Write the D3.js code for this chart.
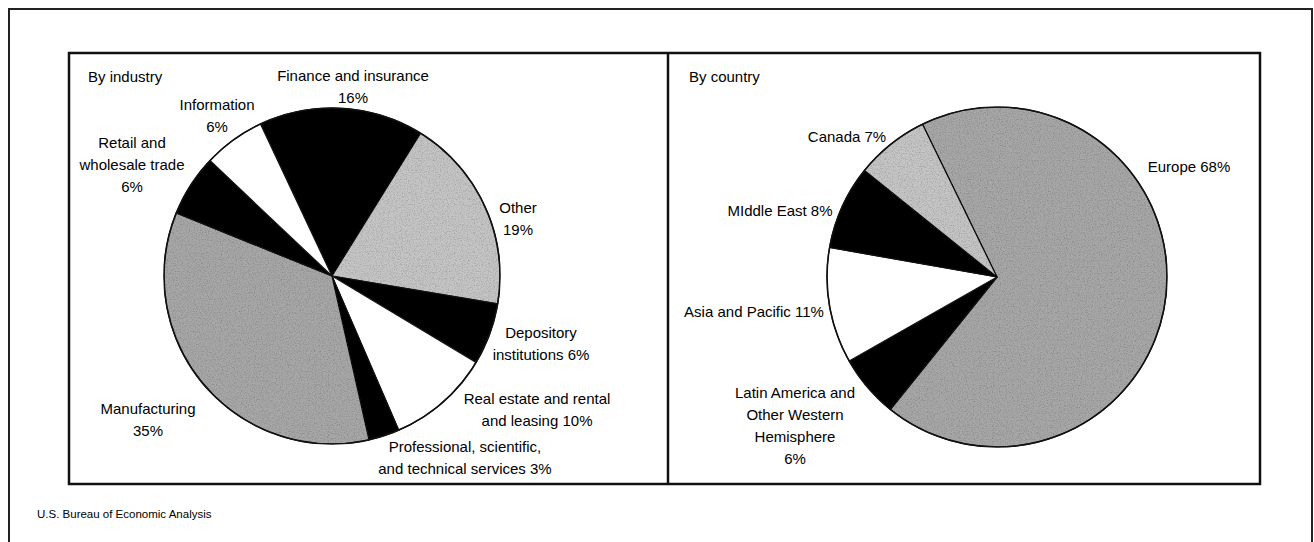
<!DOCTYPE html>
<html>
<head>
<meta charset="utf-8">
<script src="https://cdn.jsdelivr.net/npm/d3@7"></script>
<style>
  html, body { margin: 0; padding: 0; background: #fff; }
  svg { display: block; }
  text { font-family: "Liberation Sans", Arial, Helvetica, sans-serif; fill: #000; }
</style>
</head>
<body>
<script>
// ---- data ----
const industryNames = ["Finance and insurance", "Other", "Depository institutions",
  "Real estate and rental and leasing", "Professional, scientific, and technical services",
  "Manufacturing", "Retail and wholesale trade", "Information"];
const industryShares = [16, 19, 6, 10, 3, 35, 6, 6];
const industryLabelLines = [
  ["Finance and insurance", "16%"],
  ["Other", "19%"],
  ["Depository", "institutions 6%"],
  ["Real estate and rental", "and leasing 10%"],
  ["Professional, scientific,", "and technical services 3%"],
  ["Manufacturing", "35%"],
  ["Retail and", "wholesale trade", "6%"],
  ["Information", "6%"]
];

const countryNames = ["Europe", "Latin America and Other Western Hemisphere",
  "Asia and Pacific", "Middle East", "Canada"];
const countryShares = [68, 6, 11, 8, 7];
const countryLabelLines = [
  ["Europe 68%"],
  ["Latin America and", "Other Western", "Hemisphere", "6%"],
  ["Asia and Pacific 11%"],
  ["MIddle East 8%"],
  ["Canada 7%"]
];

// ---- layout & style ----
const W = 1314, H = 542;
const LINE_H = 22;
const GREY_DARK = "#a7a7a7", GREY_LIGHT = "#c5c5c5";

const industryFills = ["#000", GREY_LIGHT, "#000", "#fff", "#000", GREY_DARK, "#000", "#fff"];
const countryFills = [GREY_DARK, "#000", "#fff", "#000", GREY_LIGHT];

// label anchor offsets relative to each pie centre (centre of first line's baseline)
const industryLabelPos = [[21, -195], [186, -63], [209, 62], [205, 128], [133, 176],
  [-184, 138], [-200, -128], [-115, -166]];
const countryLabelPos = [[192, -105], [-202, 121], [-243, 40], [-217, -61], [-150, -135]];

const svg = d3.select("body").append("svg")
  .attr("width", W).attr("height", H);

// grain texture for the grey screens
const defs = svg.append("defs");
const grain = defs.append("filter").attr("id", "grain")
  .attr("x", 0).attr("y", 0).attr("width", 1).attr("height", 1);
grain.append("feTurbulence").attr("type", "fractalNoise")
  .attr("baseFrequency", 0.85).attr("numOctaves", 2).attr("seed", 3).attr("result", "noise");
grain.append("feColorMatrix").attr("in", "noise").attr("type", "matrix")
  .attr("values", "0 0 0 0 0  0 0 0 0 0  0 0 0 0 0  0 0 0 -0.9 0.5")
  .attr("result", "dots");
grain.append("feComposite").attr("in", "dots").attr("in2", "SourceGraphic")
  .attr("operator", "in").attr("result", "dotsIn");
const gm = grain.append("feMerge");
gm.append("feMergeNode").attr("in", "SourceGraphic");
gm.append("feMergeNode").attr("in", "dotsIn");

// outer frame (runs off the bottom of the page)
svg.append("path")
  .attr("d", d3.line()([[9, H + 10], [9, 9], [1312, 9], [1312, H + 10]]))
  .attr("fill", "none").attr("stroke", "#222").attr("stroke-width", 2);

// panels
const panelTop = 53, panelBottom = 484, panelLeft = 69, panelRight = 1260, divider = 668;
svg.append("rect")
  .attr("x", panelLeft).attr("y", panelTop)
  .attr("width", panelRight - panelLeft).attr("height", panelBottom - panelTop)
  .attr("fill", "none").attr("stroke", "#111").attr("stroke-width", 2.5);
svg.append("line")
  .attr("x1", divider).attr("x2", divider).attr("y1", panelTop).attr("y2", panelBottom)
  .attr("stroke", "#111").attr("stroke-width", 2.5);

svg.append("text").attr("x", 88).attr("y", 82).attr("font-size", 15).text("By industry");
svg.append("text").attr("x", 689).attr("y", 82).attr("font-size", 15).text("By country");

function drawPie(cx, cy, r, shares, fills, startDeg, lines, pos) {
  const a0 = startDeg * Math.PI / 180;
  const pie = d3.pie().sort(null).value(d => d).startAngle(a0).endAngle(a0 + 2 * Math.PI);
  const arc = d3.arc().innerRadius(0).outerRadius(r);
  const g = svg.append("g").attr("transform", `translate(${cx},${cy})`);
  const arcs = pie(shares);
  g.selectAll("path.slice").data(arcs).join("path")
    .attr("class", "slice")
    .attr("d", arc)
    .attr("fill", (d, i) => fills[i])
    .attr("filter", (d, i) => (fills[i] !== "#000" && fills[i] !== "#fff") ? "url(#grain)" : null)
    .attr("stroke", "#111").attr("stroke-width", 1.2).attr("stroke-linejoin", "round");
  g.append("circle").attr("r", r).attr("fill", "none")
    .attr("stroke", "#111").attr("stroke-width", 1.6);

  const lab = g.selectAll("text.lab").data(lines).join("text")
    .attr("class", "lab")
    .attr("font-size", 15)
    .attr("text-anchor", "middle")
    .attr("transform", (d, i) => `translate(${pos[i][0]},${pos[i][1]})`);
  lab.selectAll("tspan").data(d => d).join("tspan")
    .attr("x", 0).attr("y", (d, j) => j * LINE_H)
    .text(d => d);
}

drawPie(332, 276, 168, industryShares, industryFills, -25.2, industryLabelLines, industryLabelPos);
drawPie(997, 277, 170, countryShares, countryFills, -26, countryLabelLines, countryLabelPos);

svg.append("text").attr("x", 37).attr("y", 518).attr("font-size", 11.5)
  .text("U.S. Bureau of Economic Analysis");
</script>
</body>
</html>
